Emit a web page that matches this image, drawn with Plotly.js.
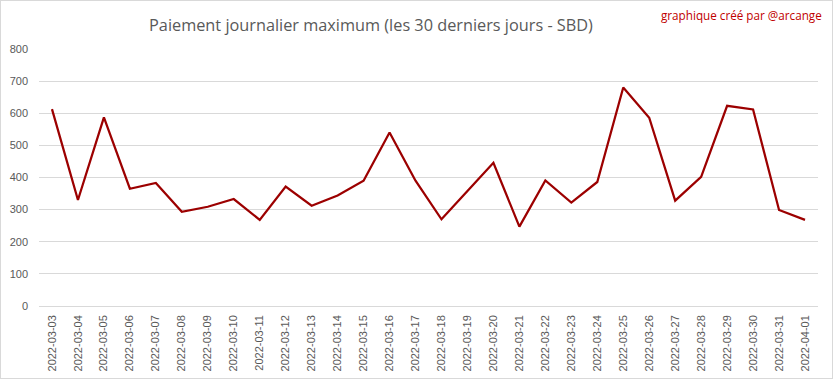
<!DOCTYPE html>
<html>
<head>
<meta charset="utf-8">
<script src="https://cdn.plot.ly/plotly-3.0.1.min.js"></script>
<style>
html,body{margin:0;padding:0;background:#fff;}
#wrap{position:relative;width:833px;height:379px;}
#chart{width:833px;height:379px;}
#frame{position:absolute;left:0;top:0;width:831px;height:377px;border:1px solid #d9d9d9;pointer-events:none;}
</style>
</head>
<body>
<div id="wrap"><div id="chart"></div><div id="frame"></div></div>
<script>
const dates = ["2022-03-03","2022-03-04","2022-03-05","2022-03-06","2022-03-07","2022-03-08","2022-03-09","2022-03-10","2022-03-11","2022-03-12","2022-03-13","2022-03-14","2022-03-15","2022-03-16","2022-03-17","2022-03-18","2022-03-19","2022-03-20","2022-03-21","2022-03-22","2022-03-23","2022-03-24","2022-03-25","2022-03-26","2022-03-27","2022-03-28","2022-03-29","2022-03-30","2022-03-31","2022-04-01"];
const maxPayout = [613,330,587,365,383,293,309,333,268,372,312,344,390,540,390,270,358,446,247,391,322,386,680,586,328,402,623,612,299,268];
const yTicks = [0,100,200,300,400,500,600,700,800];
const titleText = "Paiement journalier maximum (les 30 derniers jours - SBD)";
const creditText = "graphique créé par @arcange";

const trace = {
  x: dates,
  y: maxPayout,
  type: "scatter",
  mode: "lines",
  line: {color: "#9c0000", width: 2.25},
  hoverinfo: "x+y"
};

const layout = {
  width: 833,
  height: 379,
  margin: {l: 39, r: 15, t: 49, b: 73, pad: 0},
  paper_bgcolor: "#ffffff",
  plot_bgcolor: "#ffffff",
  showlegend: false,
  font: {family: "Liberation Sans, Arial, sans-serif", color: "#595959"},
  title: {
    text: titleText,
    font: {family: "Open Sans, sans-serif", size: 16.3, color: "#595959"},
    x: 371/833, xanchor: "center", xref: "container",
    y: 1 - 25/379, yanchor: "middle", yref: "container"
  },
  xaxis: {
    type: "category",
    range: [-0.5, dates.length - 0.5],
    tickangle: -90,
    tickfont: {size: 11, color: "#595959"},
    showgrid: false,
    showline: false,
    zeroline: false,
    ticks: "",
    ticklabelstandoff: 6,
    fixedrange: true
  },
  yaxis: {
    range: [0, 800],
    tickvals: yTicks,
    ticktext: yTicks.map(String),
    tickfont: {size: 11, color: "#595959"},
    showgrid: true,
    gridcolor: "#d9d9d9",
    gridwidth: 1,
    zeroline: true,
    zerolinecolor: "#d9d9d9",
    zerolinewidth: 1,
    showline: false,
    ticks: "",
    ticklabelstandoff: 10,
    fixedrange: true
  },
  annotations: [{
    text: creditText,
    xref: "paper", yref: "paper",
    x: (824 - 39) / 779, xanchor: "right",
    y: 1 + (49 - 15) / 257, yanchor: "middle",
    showarrow: false,
    font: {family: "Open Sans, sans-serif", size: 11.7, color: "#c00000"}
  }]
};

Plotly.newPlot("chart", [trace], layout, {displayModeBar: false, staticPlot: true});
</script>
</body>
</html>
